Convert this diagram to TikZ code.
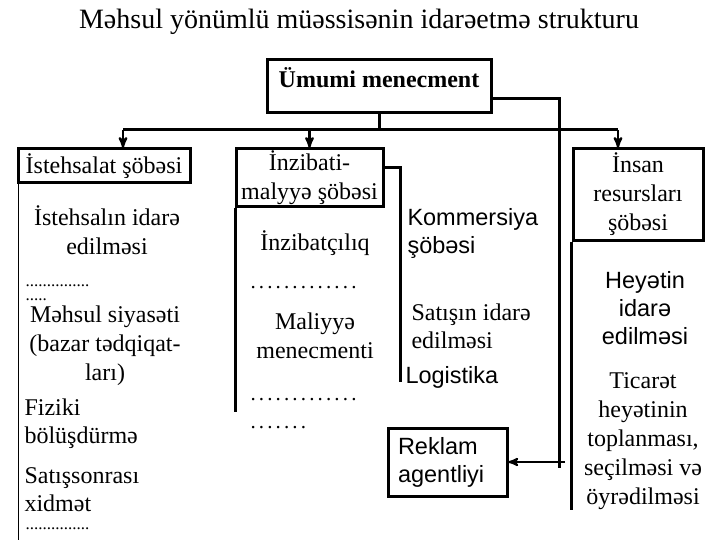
\documentclass[tikz,border=0pt]{standalone}
\usepackage{fontspec}
\setmainfont{Liberation Serif}
\setsansfont{Liberation Sans}
\usetikzlibrary{arrows}

\begin{document}
\begin{tikzpicture}[x=1pt,y=-1pt,>=stealth',line width=3pt,
    box/.style={draw,rectangle,inner sep=0pt,align=center,font=\fontsize{24}{29}\selectfont},
    txt/.style={inner sep=0pt,align=center,font=\fontsize{24}{29}\selectfont},
    ltxt/.style={inner sep=0pt,align=left,anchor=west,font=\fontsize{24}{28}\selectfont},
    stxt/.style={inner sep=0pt,align=left,font=\sffamily\fontsize{23.5}{28}\selectfont},
    dots/.style={inner sep=0pt,anchor=base west,font=\fontsize{17}{17}\selectfont},
    wdots/.style={inner sep=0pt,anchor=base west,font=\fontsize{21}{21}\selectfont\addfontfeature{LetterSpace=15}}]
    \useasboundingbox (0,0) rectangle (720,540);

    \node [inner sep=0pt,font=\fontsize{28}{28}\selectfont] (title) at (359,22) {Məhsul yönümlü müəssisənin idarəetmə strukturu};

    % boxes
    \node [box,font=\bfseries\fontsize{24}{29}\selectfont,minimum width=224pt,text height=28pt,text depth=25pt] (top) at (379,86.5) {Ümumi menecment};
    \node [box,minimum width=172pt,minimum height=34pt] (ist)   at (104,166)   {İstehsalat şöbəsi};
    \node [box,minimum width=147pt,minimum height=58pt] (inz)   at (309.5,178) {İnzibati-\\malyyə şöbəsi};
    \node [box,minimum width=130pt,minimum height=91pt] (insan) at (638,194.5) {İnsan\\resursları\\şöbəsi};
    \node [box,font=\sffamily\fontsize{23.5}{28}\selectfont,align=left,text width=99pt,inner xsep=10pt,minimum height=68pt] (reklam) at (447.5,462) {Reklam\\agentliyi};

    % connectors
    \coordinate (busL) at (123,130);
    \coordinate (busR) at (618,130);
    \coordinate (kom)  at (559,468);
    \coordinate (rk)   at (565,462);
    \coordinate (logend) at (400,382);
    \draw (busL) -- (busR);
    \draw (top.south) -- (top.south |- busL);
    \draw [->,line width=2.4pt] (busL) -- (busL |- ist.north);
    \draw [->,line width=2.4pt] (inz.north |- busL) -- (inz.north);
    \draw [->,line width=2.4pt] (busR) -- (busR |- insan.north);
    \draw ([yshift=-12.5pt]top.east) -| (kom);
    \draw [->,line width=2.2pt] (rk) -- (reklam.east);
    \draw ([yshift=10pt]inz.east) -| (logend);
    \draw [line width=1pt] ([xshift=2pt]ist.south west) -- ++(0,357);
    \draw ([xshift=1pt]inz.south west) -- ++(0,203);
    \draw (insan.south west) -- ++(0,268);

    % first column
    \node [txt]  (istidare) at (107,230) {İstehsalın idarə\\edilməsi};
    \node [dots] (dotsa) at (24,286) {...............};
    \node [dots] (dotsb) at (24,300) {.....};
    \node [txt]  (siyaset) at (105,346) {Məhsul siyasəti\\(bazar tədqiqat-\\ları)};
    \node [ltxt] (fiziki) at (23,424) {Fiziki\\bölüşdürmə};
    \node [ltxt] (satis) at (23,490) {Satışsonrası\\xidmət};
    \node [dots] (dotsc) at (24,529) {...............};

    % second column
    \node [txt]   (inzibat) at (315,243) {İnzibatçılıq};
    \node [wdots] (dotsd) at (249,288) {.............};
    \node [txt]   (maliyye) at (315,336) {Maliyyə\\menecmenti};
    \node [wdots] (dotse) at (249,400) {.............};
    \node [wdots] (dotsf) at (249,428) {.......};

    % third column
    \node [stxt,anchor=west] (kommers) at (406,233) {Kommersiya\\şöbəsi};
    \node [ltxt] (satisin) at (410,326) {Satışın idarə\\edilməsi};
    \node [stxt,anchor=west] (logist) at (404,377) {Logistika};

    % fourth column
    \node [stxt,align=center] (heyet) at (645,308) {Heyətin\\idarə\\edilməsi};
    \node [txt] (ticaret) at (643,441) {Ticarət\\heyətinin\\toplanması,\\seçilməsi və\\öyrədilməsi};
\end{tikzpicture}
\end{document}
